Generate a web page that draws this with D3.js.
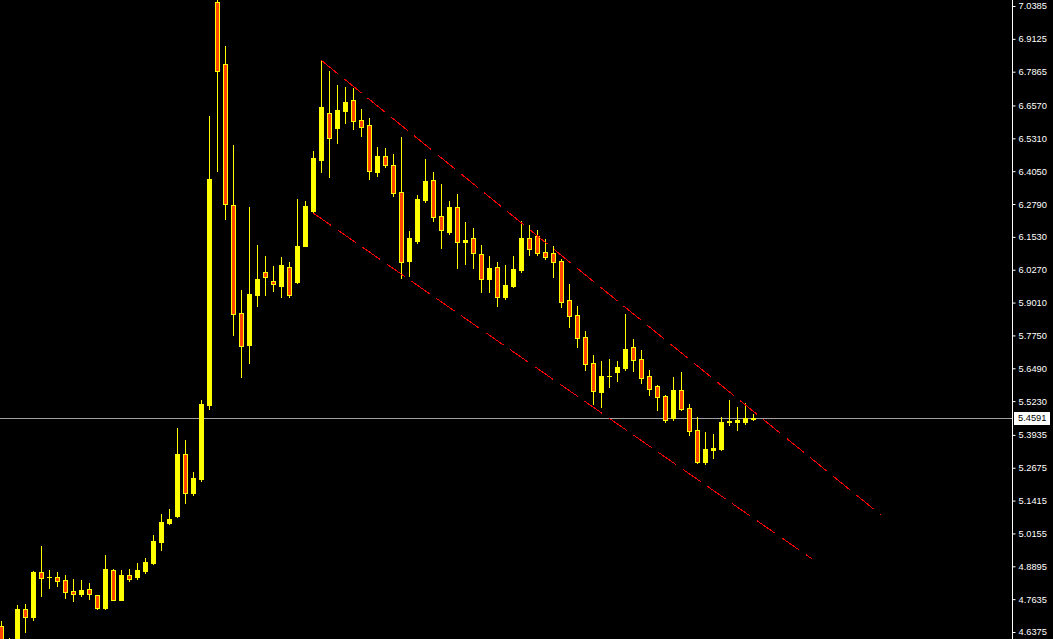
<!DOCTYPE html>
<html><head><meta charset="utf-8">
<script src="https://cdn.jsdelivr.net/npm/d3@7"></script>
<style>html,body{margin:0;padding:0;background:#000;overflow:hidden}</style>
</head><body>
<svg id="c" width="1053" height="639"></svg>
<script>
// Candle data (index 0 = leftmost visible bar)
const opens  = [4.661,4.568,4.588,4.726,4.695,4.868,4.848,4.848,4.837,4.795,4.783,4.802,4.779,4.730,4.875,4.760,4.856,4.848,4.871,4.902,4.983,5.056,5.082,5.320,5.171,5.224,5.508,7.054,6.816,6.275,5.861,5.738,5.930,6.018,5.984,5.965,6.037,5.980,6.118,6.252,6.448,6.628,6.571,6.636,6.678,6.601,6.582,6.402,6.463,6.429,6.325,6.060,6.137,6.294,6.371,6.233,6.172,6.268,6.133,6.149,6.087,5.991,6.037,5.922,5.965,6.026,6.149,6.156,6.095,6.091,6.060,5.911,5.853,5.769,5.669,5.558,5.619,5.635,5.650,5.731,5.685,5.619,5.581,5.543,5.458,5.566,5.497,5.412,5.290,5.336,5.339,5.443,5.443,5.443,5.454];
const highs  = [4.680,4.615,4.741,4.745,4.871,4.967,4.875,4.868,4.856,4.841,4.837,4.825,4.779,4.933,4.879,4.875,4.879,4.902,4.921,5.010,5.090,5.109,5.420,5.374,5.251,5.527,6.617,7.061,6.885,6.505,5.949,6.268,6.122,6.080,6.041,6.076,6.057,6.298,6.291,6.482,6.831,6.789,6.735,6.728,6.724,6.643,6.609,6.498,6.494,6.471,6.536,6.176,6.314,6.452,6.402,6.356,6.291,6.317,6.210,6.187,6.122,6.080,6.057,6.045,6.080,6.214,6.199,6.179,6.145,6.118,6.068,5.972,5.888,5.792,5.700,5.677,5.685,5.677,5.857,5.761,5.719,5.642,5.585,5.547,5.616,5.635,5.512,5.462,5.405,5.397,5.462,5.527,5.500,5.516,5.474];
const lows   = [4.568,4.549,4.577,4.638,4.683,4.776,4.806,4.814,4.768,4.756,4.776,4.764,4.726,4.726,4.760,4.760,4.833,4.841,4.864,4.898,4.952,5.052,5.079,5.132,5.163,5.217,5.493,6.406,6.222,5.777,5.616,5.669,5.888,5.930,5.945,5.922,5.922,5.976,6.118,6.245,6.402,6.383,6.513,6.590,6.567,6.540,6.375,6.387,6.421,6.310,5.995,6.003,6.129,6.287,6.214,6.110,6.164,6.034,6.049,6.034,5.942,5.942,5.888,5.915,5.961,6.018,6.084,6.084,6.068,5.999,5.884,5.807,5.731,5.642,5.512,5.500,5.577,5.600,5.642,5.639,5.593,5.547,5.489,5.443,5.451,5.489,5.393,5.286,5.282,5.305,5.336,5.431,5.412,5.435,5.451];
const closes = [4.599,4.599,4.726,4.695,4.868,4.845,4.849,4.833,4.791,4.783,4.799,4.783,4.730,4.879,4.760,4.856,4.841,4.875,4.906,4.987,5.059,5.071,5.320,5.171,5.228,5.512,6.375,6.789,6.279,5.857,5.734,5.934,5.991,5.999,5.972,6.045,5.930,6.118,6.271,6.455,6.651,6.532,6.640,6.670,6.597,6.574,6.406,6.463,6.429,6.321,6.057,6.149,6.298,6.367,6.229,6.179,6.268,6.133,6.141,6.091,5.991,6.034,5.922,5.968,6.030,6.149,6.107,6.091,6.076,6.057,5.903,5.850,5.765,5.665,5.562,5.619,5.620,5.654,5.723,5.681,5.612,5.570,5.539,5.451,5.566,5.493,5.408,5.290,5.339,5.343,5.443,5.447,5.451,5.458,5.459];

// Price axis tick labels
const tickLabels = ["7.0385","6.9125","6.7865","6.6570","6.5310","6.4050","6.2790","6.1530","6.0270","5.9010","5.7750","5.6490","5.5230","5.3935","5.2675","5.1415","5.0155","4.8895","4.7635","4.6375"];
const currentPrice = 5.4591;
const currentLabel = "5.4591";

// Channel lines: [barIndex, price]
const upperLine = [[40, 6.831], [110, 5.086]];
const lowerLine = [[39, 6.245], [101.4, 4.9175]];

const W = 1053, H = 639, axisX = 1012;
const svg = d3.select("#c");
svg.append("rect").attr("width", W).attr("height", H).attr("fill", "#000");

const y = d3.scaleLinear().domain([7.0385, 4.6375]).range([6, 632]);
const x = d3.scaleLinear().domain([0, 94]).range([1, 753]);

const bull = "#ffff00", bear = "#ff4500";

// current price line
svg.append("line")
  .attr("x1", 0).attr("x2", axisX)
  .attr("y1", Math.round(y(currentPrice)) + 0.5).attr("y2", Math.round(y(currentPrice)) + 0.5)
  .attr("stroke", "#a0a0a0").attr("stroke-width", 1);

// Candles
const data = opens.map((o, i) => ({i, o, h: highs[i], l: lows[i], c: closes[i]}));
const g = svg.append("g").attr("shape-rendering", "crispEdges");
data.forEach(d => {
  const cx = Math.round(x(d.i));
  const up = d.c >= d.o;
  g.append("line")
    .attr("x1", cx + 0.5).attr("x2", cx + 0.5)
    .attr("y1", Math.round(y(d.h))).attr("y2", Math.round(y(d.l)) + 1)
    .attr("stroke", bull).attr("stroke-width", 1);
  const top = Math.round(y(Math.max(d.o, d.c)));
  const bot = Math.round(y(Math.min(d.o, d.c)));
  if (bot - top < 1) {
    g.append("rect").attr("x", cx - 2).attr("y", top).attr("width", 5).attr("height", 1).attr("fill", bull);
  } else {
    g.append("rect")
      .attr("x", cx - 2).attr("y", top).attr("width", 5).attr("height", bot - top + 1)
      .attr("fill", bull);
    if (!up && bot - top >= 2) {
      g.append("rect")
        .attr("x", cx - 1).attr("y", top + 1).attr("width", 3).attr("height", bot - top - 1)
        .attr("fill", bear);
    }
  }
});

// Channel lines
[upperLine, lowerLine].forEach(L => {
  svg.append("line")
    .attr("x1", x(L[0][0])).attr("y1", y(L[0][1]))
    .attr("x2", x(L[1][0])).attr("y2", y(L[1][1]))
    .attr("stroke", "#ff0000").attr("stroke-width", 1)
    .attr("shape-rendering", "crispEdges")
    .attr("stroke-dasharray", "22,8");
});

// Right price axis
const axis = d3.axisRight(y)
  .tickValues(tickLabels.map(Number))
  .tickFormat((d, i) => tickLabels[i])
  .tickSize(3).tickPadding(3);
const ag = svg.append("g").attr("transform", `translate(${axisX + 0.5},0)`).call(axis);
ag.select(".domain").attr("stroke", "#fff").attr("d", `M0,0V${H}`);
ag.selectAll(".tick line").attr("stroke", "#fff");
ag.selectAll(".tick text").attr("fill", "#fff")
  .attr("font-family", "'Liberation Sans', Arial, sans-serif").attr("font-size", "9.3px");

// current price label
const cy = y(currentPrice);
svg.append("rect").attr("x", 1014).attr("y", Math.round(cy) - 6).attr("width", 36).attr("height", 13).attr("fill", "#fff");
svg.append("text").attr("x", 1018).attr("y", cy).attr("dy", "0.35em")
  .attr("fill", "#000").attr("font-family", "'Liberation Sans', Arial, sans-serif").attr("font-size", "9.3px")
  .text(currentLabel);
</script>
</body></html>
